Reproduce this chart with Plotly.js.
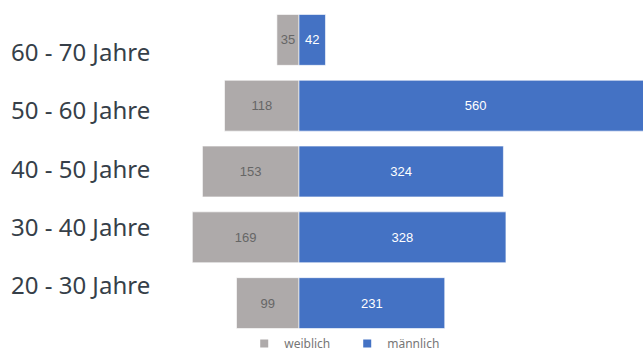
<!DOCTYPE html>
<html><head><meta charset="utf-8">
<script src="https://cdn.plot.ly/plotly-3.0.1.min.js"></script>
<style>html,body{margin:0;padding:0;background:#fff}#c{width:643px;height:358px}</style>
</head><body><div id="c"></div>
<script>
const categories = ["60 - 70 Jahre", "50 - 60 Jahre", "40 - 50 Jahre", "30 - 40 Jahre", "20 - 30 Jahre"];
const weiblich = [35, 118, 153, 169, 99];
const maennlich = [42, 560, 324, 328, 231];
const seriesNames = ["weiblich", "männlich"];
const colors = ["#AEAAAA", "#4472C4"];

const traces = [
  {
    type: "bar", orientation: "h", name: seriesNames[0], showlegend: false,
    y: categories, x: weiblich.map(v => -v), text: weiblich.map(String),
    texttemplate: "%{text}", textposition: "inside", insidetextanchor: "middle",
    constraintext: "none", cliponaxis: true,
    textfont: {family: "Liberation Sans, Arial", size: 13, color: "#666666"},
    marker: {color: colors[0], line: {color: "rgba(255,255,255,0.6)", width: 1}},
    hoverinfo: "none"
  },
  {
    type: "bar", orientation: "h", name: seriesNames[1], showlegend: false,
    y: categories, x: maennlich, text: maennlich.map(String),
    texttemplate: "%{text}", textposition: "inside", insidetextanchor: "middle",
    constraintext: "none", cliponaxis: true,
    textfont: {family: "Liberation Sans, Arial", size: 13, color: "#ffffff"},
    marker: {color: colors[1], line: {color: "rgba(255,255,255,0.6)", width: 1}},
    hoverinfo: "none"
  },
  {type: "scatter", mode: "markers", name: seriesNames[0], x: [null], y: [null],
   marker: {symbol: "square", size: 8, color: colors[0]}},
  {type: "scatter", mode: "markers", name: seriesNames[1], x: [null], y: [null],
   marker: {symbol: "square", size: 8, color: colors[1]}}
];

const annotations = categories.map((c, i) => ({
  text: c, xref: "paper", yref: "paper", x: 9 / 643, xanchor: "left",
  y: 0.859 - i * 0.1773, yanchor: "middle", yshift: 2, showarrow: false,
  font: {family: "'Noto Sans', sans-serif", size: 24, color: "#363f49"}
}));

const layout = {
  width: 643, height: 358,
  margin: {l: 0, r: 0, t: 6.5, b: 21.5, autoexpand: false},
  paper_bgcolor: "#fff", plot_bgcolor: "#fff",
  barmode: "relative", bargap: 0.227,
  xaxis: {range: [-473.8, 545.2], visible: false, showgrid: false, zeroline: false, fixedrange: true},
  yaxis: {type: "category", categoryarray: categories, range: [4.5, -0.5], visible: false, showgrid: false, zeroline: false, fixedrange: true},
  showlegend: true,
  legend: {orientation: "h", xref: "container", yref: "container", x: 0.54, xanchor: "center",
    y: 0, yanchor: "bottom",
    font: {family: "'Noto Sans', sans-serif", size: 12, color: "#767676"}, itemwidth: 30,
    entrywidth: 58, entrywidthmode: "pixels", bgcolor: "rgba(0,0,0,0)"},
  annotations: annotations
};

Plotly.newPlot("c", traces, layout, {displayModeBar: false, staticPlot: true});
</script>
</body></html>
